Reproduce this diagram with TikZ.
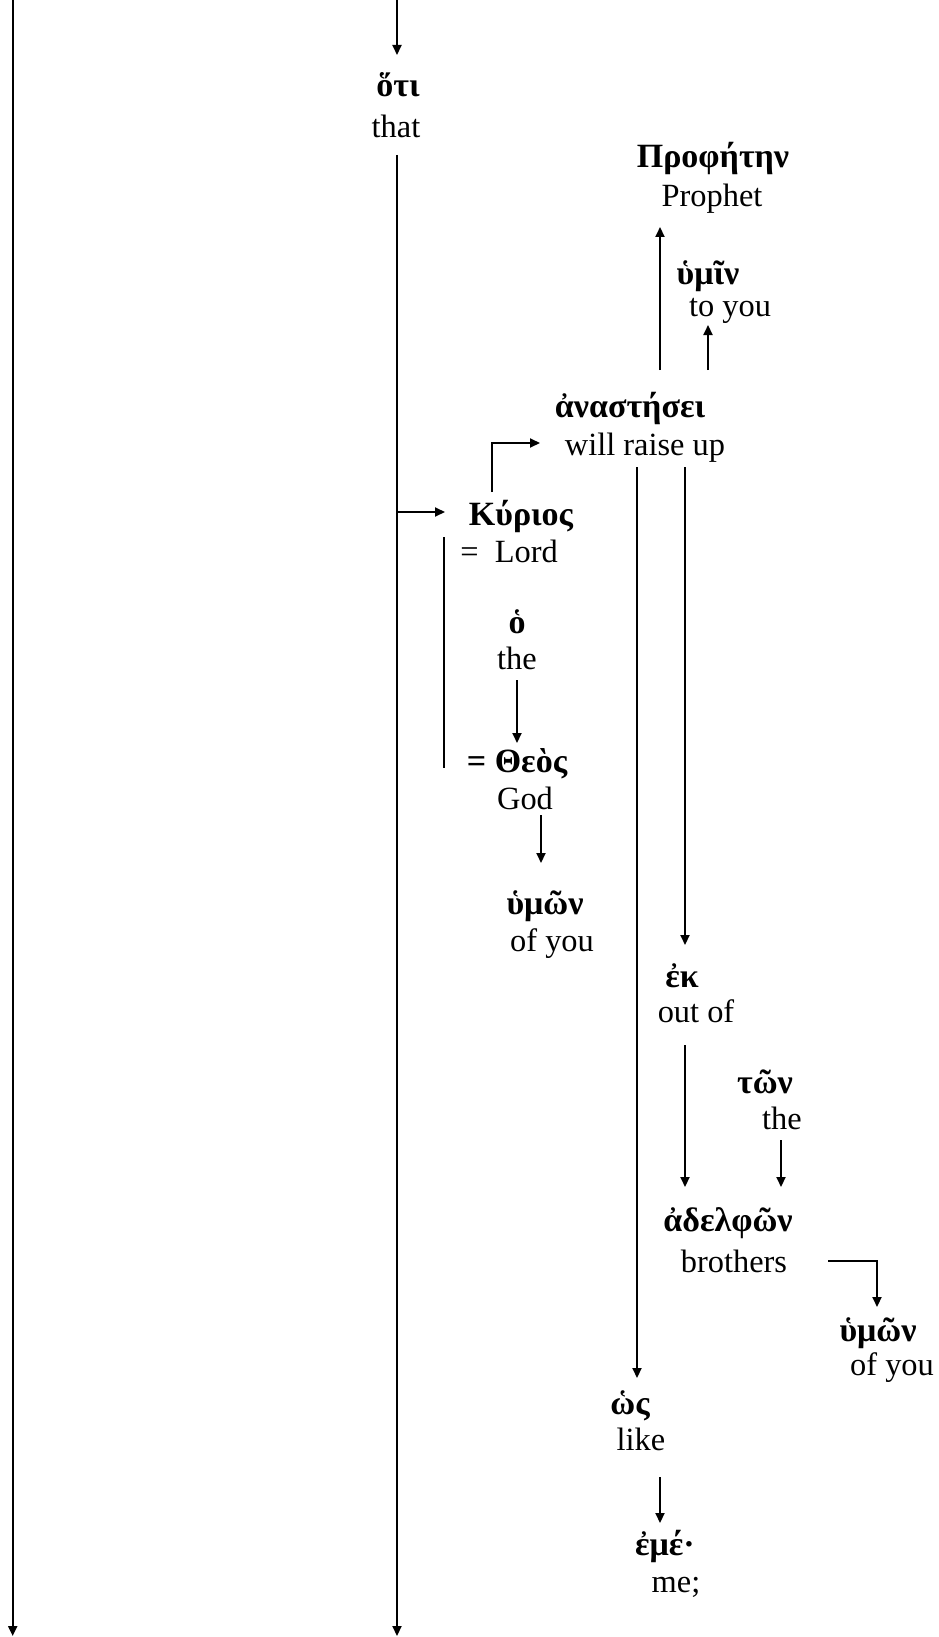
\documentclass[tikz,border=0pt]{standalone}
\usepackage{fontspec}
\setmainfont{Liberation Serif}
\usetikzlibrary{arrows.meta}
\begin{document}
\begin{tikzpicture}[x=0.5pt,y=-0.5pt,
  word/.style={inner sep=0pt, anchor=base, font=\fontsize{16.2}{19}\selectfont},
  gk/.style={word, font=\fontsize{17}{20}\selectfont\bfseries},
  link/.style={line width=1pt},
  arr/.style={link, -{Triangle[length=5pt,width=4.5pt]}}]
\useasboundingbox (0,0) rectangle (938,1637);

% words: Greek above, English gloss below
\node[gk]   (oti)      at (398,97)   {ὅτι};
\node[word] (oti-e)    at (396,138)  {that};
\node[gk]   (proph)    at (713,168)  {Προφήτην};
\node[word] (proph-e)  at (712,207)  {Prophet};
\node[gk]   (hymin)    at (708,285)  {ὑμῖν};
\node[word] (hymin-e)  at (730,316)  {to you};
\node[gk]   (anast)    at (630,417)  {ἀναστήσει};
\node[word] (anast-e)  at (645,455)  {will raise up};
\node[gk]   (kyrios)   at (521,525)  {Κύριος};
\node[word] (kyrios-e) at (509,562)  {= ~Lord};
\node[gk]   (ho)       at (517,633)  {ὁ};
\node[word] (ho-e)     at (517,669)  {the};
\node[gk]   (theos)    at (517,772)  {= Θεὸς};
\node[word] (theos-e)  at (525,809)  {God};
\node[gk]   (hymon1)   at (545,914)  {ὑμῶν};
\node[word] (hymon1-e) at (552,951)  {of you};
\node[gk]   (ek)       at (682,987)  {ἐκ};
\node[word] (ek-e)     at (696,1022) {out of};
\node[gk]   (ton)      at (765,1093) {τῶν};
\node[word] (ton-e)    at (782,1129) {the};
\node[gk]   (adelph)   at (728,1231) {ἀδελφῶν};
\node[word] (adelph-e) at (734,1272) {brothers};
\node[gk]   (hymon2)   at (878,1341) {ὑμῶν};
\node[word] (hymon2-e) at (892,1375) {of you};
\node[gk]   (hos)      at (630,1414) {ὡς};
\node[word] (hos-e)    at (641,1450) {like};
\node[gk]   (eme)      at (665,1555) {ἐμέ·};
\node[word] (eme-e)    at (676,1592) {me;};

% connector end points
\coordinate (Ltop) at (12.7,0);     \coordinate (Lbot) at (12.7,1636);
\coordinate (Mtop) at (397,0);      \coordinate (Mend) at (397,55);
\coordinate (Mstart) at (397,155);  \coordinate (Mbot) at (397,1636);
\coordinate (Mbr) at (397,512);     \coordinate (kyIn) at (445,512);
\coordinate (kyUp) at (492,492);    \coordinate (kyBend) at (492,443);
\coordinate (anIn) at (540,443);
\coordinate (eqTop) at (444,537);   \coordinate (eqBot) at (444,768);
\coordinate (anP0) at (660,370);    \coordinate (anP1) at (660,227);
\coordinate (anH0) at (708,370);    \coordinate (anH1) at (708,325);
\coordinate (anW0) at (637,467);    \coordinate (anW1) at (637,1378);
\coordinate (anE0) at (685,467);    \coordinate (anE1) at (685,945);
\coordinate (hoT0) at (517,680);    \coordinate (hoT1) at (517,743);
\coordinate (thY0) at (541,815);    \coordinate (thY1) at (541,863);
\coordinate (ekA0) at (685,1045);   \coordinate (ekA1) at (685,1187);
\coordinate (toA0) at (781,1140);   \coordinate (toA1) at (781,1187);
\coordinate (adY0) at (828,1261);   \coordinate (adBend) at (877,1261);
\coordinate (adY1) at (877,1307);
\coordinate (hoE0) at (660,1477);   \coordinate (hoE1) at (660,1523);

% main clause lines
\draw[arr] (Ltop) -- (Lbot);
\draw[arr] (Mtop) -- (Mend);
\draw[arr] (Mstart) -- (Mbot);
\draw[arr] (Mbr) -- (kyIn);
\draw[arr] (kyUp) -- (kyBend) -- (anIn);
% apposition bracket
\draw[link] (eqTop) -- (eqBot);
% modifiers
\draw[arr] (anP0) -- (anP1);
\draw[arr] (anH0) -- (anH1);
\draw[arr] (anW0) -- (anW1);
\draw[arr] (anE0) -- (anE1);
\draw[arr] (hoT0) -- (hoT1);
\draw[arr] (thY0) -- (thY1);
\draw[arr] (ekA0) -- (ekA1);
\draw[arr] (toA0) -- (toA1);
\draw[arr] (adY0) -- (adBend) -- (adY1);
\draw[arr] (hoE0) -- (hoE1);
\end{tikzpicture}
\end{document}
